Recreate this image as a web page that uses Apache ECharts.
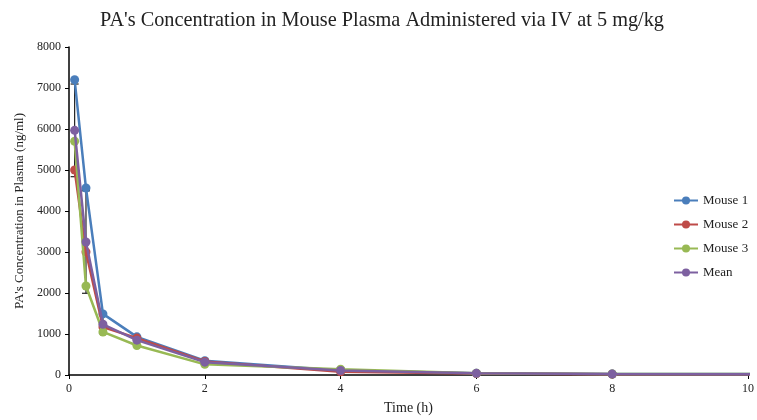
<!DOCTYPE html>
<html>
<head>
<meta charset="utf-8">
<script src="https://cdn.jsdelivr.net/npm/echarts@6/dist/echarts.min.js"></script>
<style>
  html, body { margin: 0; padding: 0; background: #fff; }
  #chart { width: 757px; height: 420px; }
</style>
</head>
<body>
<div id="chart"></div>
<script>
const times = [0.083, 0.25, 0.5, 1, 2, 4, 6, 8, 24]
const mouse1 = [7200, 4560, 1490, 930, 350, 110, 40, 25, 5]
const mouse2 = [5000, 3000, 1170, 900, 330, 80, 35, 20, 4]
const mouse3 = [5700, 2170, 1050, 720, 260, 140, 45, 25, 6]
const mean = [5967, 3243, 1237, 850, 313, 110, 40, 23, 5]
const meanSd = [1130, 1250, 230, 110, 45, 30, 5, 3, 1]

const font = 'Liberation Serif, Times New Roman, serif'
const pairs = (ys) => times.map((t, i) => [t, ys[i]])

function lineSeries(name, color, ys, z) {
  return {
    name,
    type: 'line',
    data: pairs(ys),
    z,
    symbol: 'circle',
    symbolSize: 9,
    lineStyle: { width: 2.5, color },
    itemStyle: { color }
  }
}

const chart = echarts.init(document.getElementById('chart'))
chart.setOption({
  animation: false,
  title: {
    text: "PA's Concentration in Mouse Plasma Administered via IV at 5 mg/kg",
    left: 95,
    top: 6,
    textStyle: { fontFamily: font, fontSize: 20.3, fontWeight: 'normal', color: '#222' }
  },
  legend: {
    orient: 'vertical',
    left: 668,
    top: 189,
    itemGap: 11,
    itemWidth: 24,
    itemHeight: 10,
    textStyle: { fontFamily: font, fontSize: 13, color: '#222' },
    data: ['Mouse 1', 'Mouse 2', 'Mouse 3', 'Mean']
  },
  grid: { left: 69, right: 9, top: 47, bottom: 45 },
  xAxis: {
    type: 'value',
    min: 0,
    max: 10,
    interval: 2,
    name: 'Time (h)',
    nameLocation: 'middle',
    nameGap: 26,
    nameTextStyle: { fontFamily: font, fontSize: 14, color: '#222' },
    axisLine: { lineStyle: { color: '#000', width: 1.5 } },
    axisTick: { show: true, length: 4, lineStyle: { color: '#000' } },
    axisLabel: { fontFamily: font, fontSize: 12, color: '#222' },
    splitLine: { show: false }
  },
  yAxis: {
    type: 'value',
    min: 0,
    max: 8000,
    interval: 1000,
    name: "PA's Concentration in Plasma (ng/ml)",
    nameLocation: 'middle',
    nameGap: 37,
    nameTextStyle: { fontFamily: font, fontSize: 13, color: '#222' },
    axisLine: { show: true, lineStyle: { color: '#000', width: 1.5 } },
    axisTick: { show: true, length: 4, lineStyle: { color: '#000' } },
    axisLabel: { fontFamily: font, fontSize: 12, color: '#222', formatter: (v) => String(v) },
    splitLine: { show: false }
  },
  series: [
    {
      type: 'custom',
      z: 1,
      data: times.map((t, i) => [t, mean[i] - meanSd[i], mean[i] + meanSd[i]]),
      renderItem: (params, api) => {
        const lo = api.coord([api.value(0), api.value(1)])
        const hi = api.coord([api.value(0), api.value(2)])
        const w = 4
        const style = { stroke: '#222', lineWidth: 1.2 }
        return {
          type: 'group',
          children: [
            { type: 'line', shape: { x1: lo[0], y1: lo[1], x2: hi[0], y2: hi[1] }, style },
            { type: 'line', shape: { x1: lo[0] - w, y1: lo[1], x2: lo[0] + w, y2: lo[1] }, style },
            { type: 'line', shape: { x1: hi[0] - w, y1: hi[1], x2: hi[0] + w, y2: hi[1] }, style }
          ]
        }
      },
      clip: true
    },
    lineSeries('Mouse 1', '#4a7ebb', mouse1, 2),
    lineSeries('Mouse 2', '#be4b48', mouse2, 3),
    lineSeries('Mouse 3', '#98b954', mouse3, 4),
    lineSeries('Mean', '#7d60a0', mean, 5)
  ]
})
</script>
</body>
</html>
